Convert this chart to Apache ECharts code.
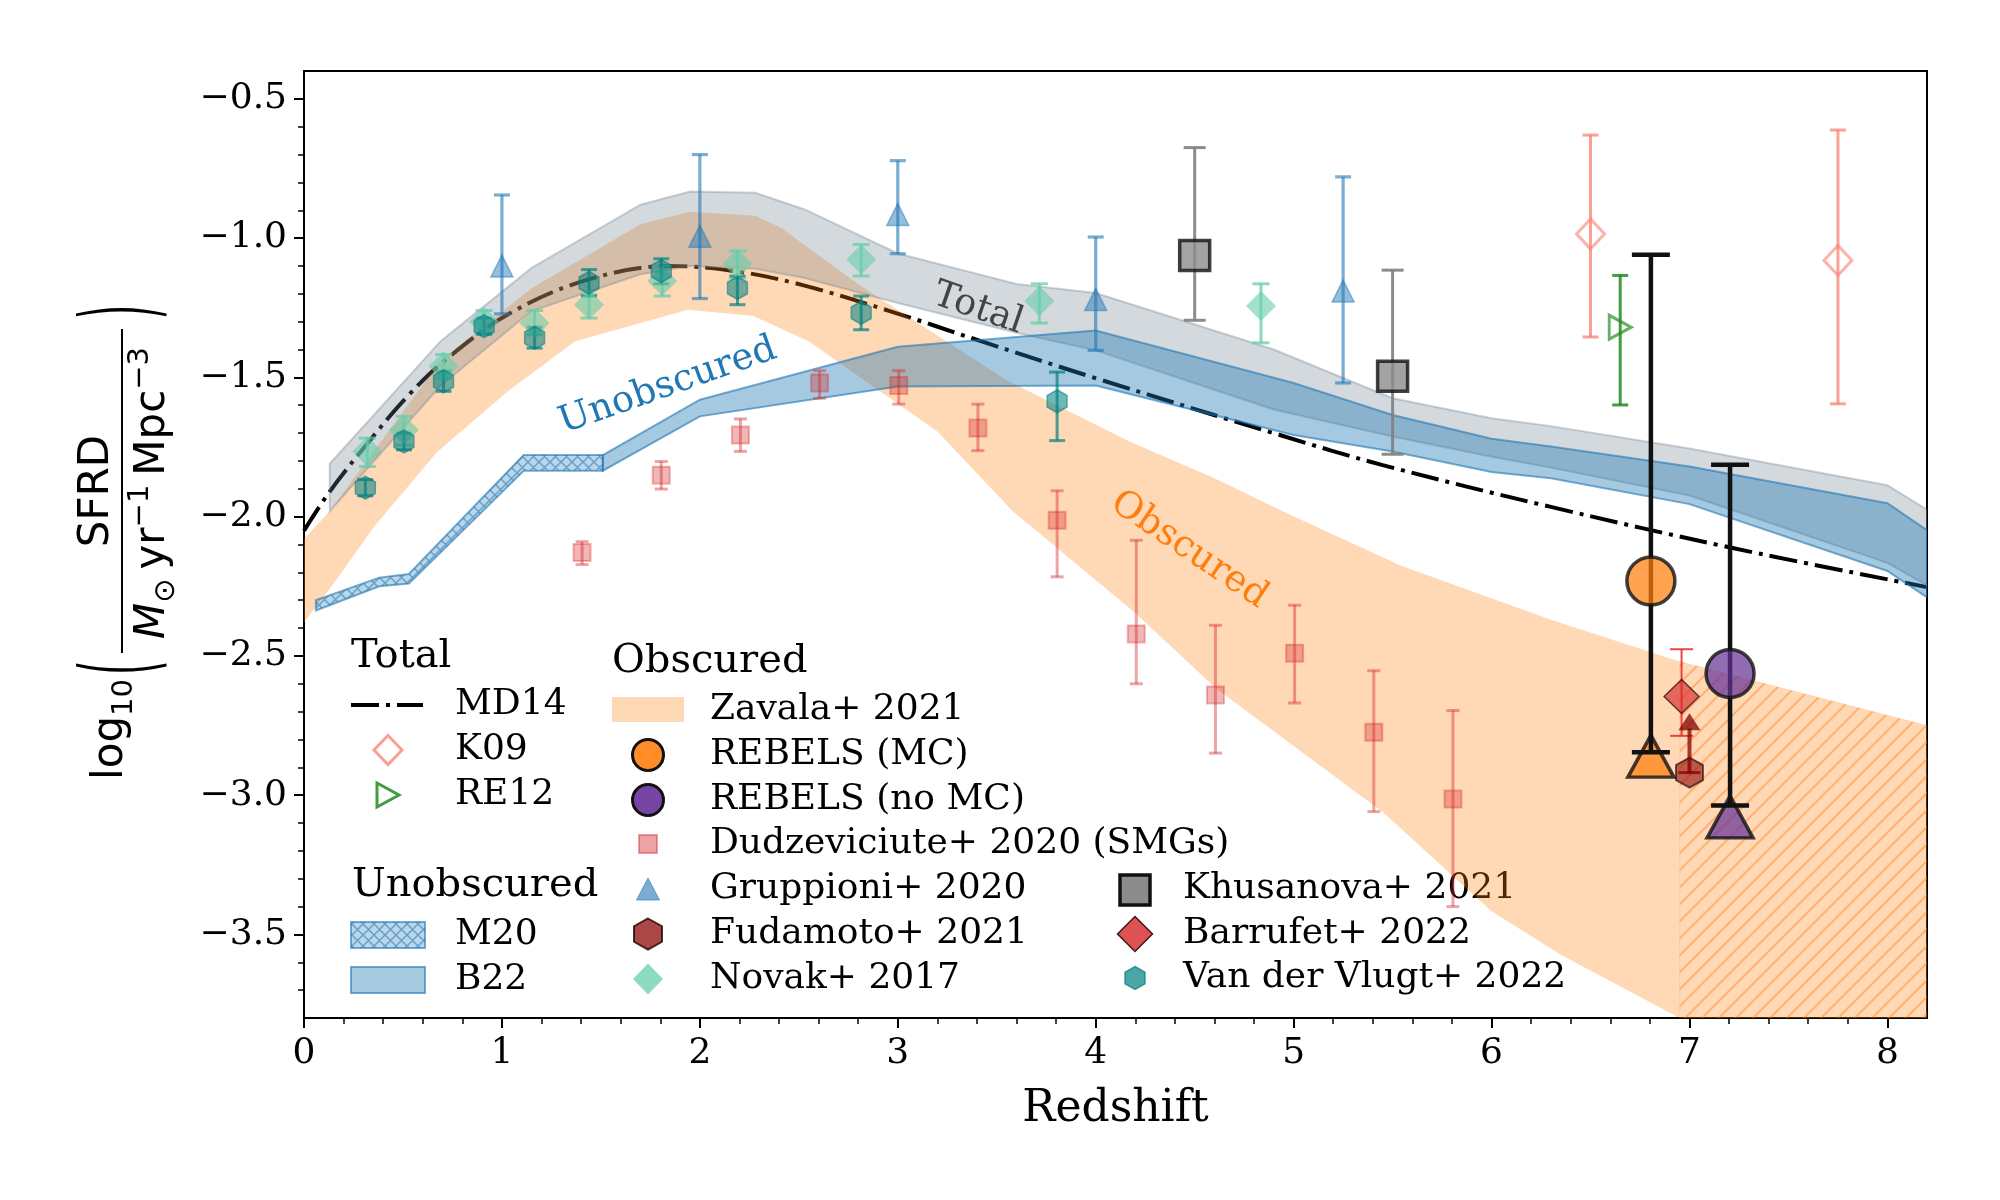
<!DOCTYPE html>
<html>
<head>
<meta charset="utf-8">
<script src="https://cdn.jsdelivr.net/npm/echarts/dist/echarts.min.js"></script>
<style>html,body{margin:0;padding:0;background:#fff}#c{width:2000px;height:1200px}</style>
</head>
<body>
<div id="c"></div>
<script>
// ---------------- DATA ----------------
const xTickLabels = [0, 1, 2, 3, 4, 5, 6, 7, 8];
const xMinorTicks = [0.2,0.4,0.6,0.8,1.2,1.4,1.6,1.8,2.2,2.4,2.6,2.8,3.2,3.4,3.6,3.8,4.2,4.4,4.6,4.8,5.2,5.4,5.6,5.8,6.2,6.4,6.6,6.8,7.2,7.4,7.6,7.8];
const yTickLabels = [-3.5, -3.0, -2.5, -2.0, -1.5, -1.0, -0.5];
const yMinorTicks = [-3.7,-3.6,-3.4,-3.3,-3.2,-3.1,-2.9,-2.8,-2.7,-2.6,-2.4,-2.3,-2.2,-2.1,-1.9,-1.8,-1.7,-1.6,-1.4,-1.3,-1.2,-1.1,-0.9,-0.8,-0.7,-0.6];

// Total: MD14 curve
const md14Z = [0, 0.13, 0.34, 0.52, 0.71, 1.04, 1.43, 1.85, 2.19, 2.51, 2.96, 3.42, 4.0, 4.93, 5.45, 6.3, 7.2, 8.2];
const md14V = [-2.05, -1.91, -1.72, -1.57, -1.44, -1.27, -1.15, -1.10, -1.12, -1.167, -1.262, -1.37, -1.503, -1.707, -1.815, -1.965, -2.11, -2.253];

// Total band (grey)
const totalZ = [0.13, 0.69, 1.15, 1.7, 1.95, 2.28, 2.53, 3.0, 3.6, 4.0, 4.9, 5.5, 6.0, 6.3, 7.0, 8.0, 8.2];
const totalUpper = [-1.81, -1.37, -1.107, -0.88, -0.833, -0.837, -0.897, -1.055, -1.165, -1.197, -1.40, -1.575, -1.647, -1.675, -1.755, -1.887, -1.975];
const totalLower = [-1.98, -1.53, -1.262, -1.13, -1.10, -1.11, -1.143, -1.233, -1.34, -1.403, -1.615, -1.712, -1.785, -1.824, -1.924, -2.166, -2.247];

// Unobscured: M20 (hatched) and B22
const m20Z = [0.06, 0.38, 0.53, 1.11, 1.51];
const m20Upper = [-2.30, -2.219, -2.206, -1.779, -1.779];
const m20Lower = [-2.337, -2.25, -2.24, -1.835, -1.835];
const b22Z = [1.51, 2.0, 3.0, 4.0, 5.0, 5.5, 6.0, 6.3, 7.0, 8.0, 8.2];
const b22Upper = [-1.779, -1.58, -1.39, -1.332, -1.52, -1.635, -1.72, -1.748, -1.82, -1.952, -2.049];
const b22Lower = [-1.835, -1.64, -1.533, -1.529, -1.707, -1.766, -1.84, -1.862, -1.955, -2.195, -2.29];

// Obscured: Zavala+ 2021 band and its hatched extrapolation
const zavalaUpperZ = [0, 0.13, 0.69, 1.15, 1.7, 1.95, 2.28, 2.41, 2.57, 2.83, 3.2, 3.55, 4.17, 4.6, 4.95, 5.54, 6.3, 6.95];
const zavalaUpper = [-2.08, -1.98, -1.44, -1.18, -0.95, -0.905, -0.92, -0.963, -1.046, -1.18, -1.35, -1.51, -1.73, -1.862, -1.982, -2.175, -2.37, -2.52];
const zavalaLowerZ = [0, 0.17, 0.35, 0.67, 1.03, 1.37, 1.94, 2.27, 2.55, 3.2, 3.58, 4.19, 4.61, 5.45, 6.0, 6.35, 6.95];
const zavalaLower = [-2.38, -2.22, -2.04, -1.77, -1.55, -1.37, -1.257, -1.28, -1.37, -1.694, -1.98, -2.34, -2.618, -3.06, -3.417, -3.573, -3.80];
const zavalaExtZ = [6.95, 8.2];
const zavalaExtUpper = [-2.52, -2.75];
const zavalaExtLower = [-3.8, -3.8];

// Points
const k09Z = [6.5, 7.75], k09V = [-0.985, -1.08], k09Lo = [-1.355, -1.595], k09Hi = [-0.63, -0.612];
const re12Z = [6.65], re12V = [-1.32], re12Lo = [-1.599], re12Hi = [-1.134];
const gruppioniZ = [1.0, 2.0, 3.0, 4.0, 5.25];
const gruppioniV = [-1.10, -0.993, -0.915, -1.22, -1.19];
const gruppioniLo = [-1.272, -1.217, -1.056, -1.403, -1.52];
const gruppioniHi = [-0.845, -0.70, -0.722, -0.996, -0.78];
const novakZ = [0.32, 0.505, 0.705, 0.91, 1.165, 1.44, 1.81, 2.19, 2.815, 3.715, 4.835];
const novakV = [-1.766, -1.689, -1.46, -1.30, -1.305, -1.239, -1.154, -1.092, -1.077, -1.226, -1.244];
const novakLo = [-1.82, -1.743, -1.503, -1.34, -1.347, -1.287, -1.208, -1.143, -1.136, -1.305, -1.376];
const novakHi = [-1.718, -1.64, -1.418, -1.26, -1.26, -1.203, -1.10, -1.046, -1.023, -1.164, -1.164];
const vdvZ = [0.31, 0.505, 0.705, 0.91, 1.165, 1.44, 1.805, 2.19, 2.815, 3.805];
const vdvV = [-1.896, -1.73, -1.514, -1.316, -1.358, -1.16, -1.118, -1.179, -1.268, -1.586];
const vdvLo = [-1.925, -1.76, -1.55, -1.345, -1.395, -1.208, -1.164, -1.239, -1.329, -1.727];
const vdvHi = [-1.867, -1.70, -1.478, -1.287, -1.32, -1.113, -1.074, -1.136, -1.208, -1.481];
const dudzZ = [1.405, 1.805, 2.205, 2.605, 3.005, 3.405, 3.805, 4.205, 4.605, 5.005, 5.405, 5.805];
const dudzV = [-2.129, -1.851, -1.707, -1.52, -1.529, -1.682, -2.013, -2.421, -2.64, -2.49, -2.774, -3.014];
const dudzLo = [-2.172, -1.901, -1.766, -1.575, -1.596, -1.763, -2.216, -2.60, -2.849, -2.669, -3.059, -3.40];
const dudzHi = [-2.09, -1.802, -1.649, -1.476, -1.476, -1.596, -1.907, -2.085, -2.39, -2.318, -2.553, -2.696];
const khusZ = [4.5, 5.5], khusV = [-1.062, -1.496], khusLo = [-1.295, -1.776], khusHi = [-0.675, -1.115];
const rebMcZ = [6.805], rebMcV = [-2.231], rebMcLo = [-2.846], rebMcHi = [-1.06], rebMcLim = [-2.86];
const rebNoZ = [7.205], rebNoV = [-2.563], rebNoLo = [-3.037], rebNoHi = [-1.814], rebNoLim = [-3.078];
const barZ = [6.96], barV = [-2.646], barLo = [-2.787], barHi = [-2.476];
const fudZ = [7.0], fudV = [-2.919], fudLim = [-2.706];

// ---------------- STYLE ----------------
const SERIF = '"DejaVu Serif", serif';
const SANS = '"DejaVu Sans", sans-serif';
const C = {
  grey: 'rgba(112,128,144,0.3)', greyEdge: 'rgba(112,128,144,0.35)',
  peach: 'rgba(255,127,14,0.3)',
  blue: 'rgba(31,119,180,0.4)', blueEdge: 'rgba(31,119,180,0.6)', blueM20: 'rgba(31,119,180,0.3)',
  grup: 'rgba(31,119,180,0.6)', novak: 'rgba(102,205,170,0.75)', vdv: 'rgba(0,128,128,0.7)',
  dudz: 'rgba(214,39,40,0.42)', khus: '#8c8c8c', k09: 'rgba(250,128,114,0.75)', re12: 'rgba(34,139,34,0.85)',
  mc: 'rgba(255,127,14,0.9)', nomc: 'rgba(102,51,153,0.9)', bar: 'rgba(214,39,40,0.8)', fud: 'rgba(139,0,0,0.72)'
};
const HEX = 'path://M0,-10 L8.66,-5 L8.66,5 L0,10 L-8.66,5 L-8.66,-5 Z';
const TRI_R = 'path://M0,0 L20,10 L0,20 Z';

function makePattern(size, color, width, cross) {
  const cv = document.createElement('canvas');
  cv.width = size; cv.height = size;
  const g = cv.getContext('2d');
  g.strokeStyle = color; g.lineWidth = width;
  g.beginPath();
  g.moveTo(0, size); g.lineTo(size, 0);
  g.moveTo(-2, 2); g.lineTo(2, -2);
  g.moveTo(size - 2, size + 2); g.lineTo(size + 2, size - 2);
  if (cross) {
    g.moveTo(0, 0); g.lineTo(size, size);
    g.moveTo(-2, size - 2); g.lineTo(2, size + 2);
    g.moveTo(size - 2, -2); g.lineTo(size + 2, 2);
  }
  g.stroke();
  return { image: cv, repeat: 'repeat' };
}
const hatchOrange = makePattern(17, 'rgba(255,127,14,0.42)', 2, false);
const hatchBlue = makePattern(11, 'rgba(31,119,180,0.55)', 1.5, true);

function band(name, uz, uu, lz, ll, style, pattern) {
  return {
    name, type: 'custom', coordinateSystem: 'cartesian2d', clip: true, silent: true, z: 2,
    data: [[uz[0], uu[0]]],
    renderItem: function (params, api) {
      const pts = [];
      for (let i = 0; i < uz.length; i++) pts.push(api.coord([uz[i], uu[i]]));
      for (let i = lz.length - 1; i >= 0; i--) pts.push(api.coord([lz[i], ll[i]]));
      const ch = [{ type: 'polygon', shape: { points: pts }, style: style }];
      if (pattern) ch.push({ type: 'polygon', shape: { points: pts }, style: { fill: pattern, stroke: null } });
      return { type: 'group', children: ch };
    }
  };
}
function errbars(name, zs, lo, hi, color, lw, cap, z) {
  return {
    name, type: 'custom', silent: true, z: z || 3, clip: false,
    data: zs.map((x, i) => [x, lo[i], hi[i]]),
    encode: { x: 0, y: [1, 2] },
    renderItem: function (params, api) {
      const x = api.value(0);
      const a = api.coord([x, api.value(1)]), b = api.coord([x, api.value(2)]);
      const h = cap / 2, st = { stroke: color, lineWidth: lw, fill: null };
      return { type: 'group', children: [
        { type: 'line', shape: { x1: a[0], y1: a[1], x2: b[0], y2: b[1] }, style: st },
        { type: 'line', shape: { x1: a[0] - h, y1: a[1], x2: a[0] + h, y2: a[1] }, style: st },
        { type: 'line', shape: { x1: b[0] - h, y1: b[1], x2: b[0] + h, y2: b[1] }, style: st }
      ] };
    }
  };
}
function pts(name, zs, vs, symbol, size, itemStyle, z) {
  return {
    name, type: 'scatter', silent: true, z: z || 4,
    data: zs.map((x, i) => [x, vs[i]]),
    symbol, symbolSize: size, itemStyle, emphasis: { disabled: true }
  };
}

// ---------------- GRAPHIC (legend, annotations, y label) ----------------
const LY = 5; // legend vertical offset
function T(x, y, t, size, extra) {
  const st = Object.assign({ text: t, fontSize: size, fontFamily: SERIF, font: size + 'px ' + SERIF, fill: '#000',
    align: 'left', verticalAlign: 'middle', textAlign: 'left', textVerticalAlign: 'middle' }, extra || {});
  return { type: 'text', x, y: y + LY, silent: true, style: st };
}
function poly(points, style) { return { type: 'polygon', silent: true, shape: { points: points.map(p => [p[0], p[1] + LY]) }, style }; }
function diamond(cx, cy, w, h, style) { return poly([[cx, cy - h / 2], [cx + w / 2, cy], [cx, cy + h / 2], [cx - w / 2, cy]], style); }
function hexagon(cx, cy, w, h, style) { return poly([[cx, cy - h / 2], [cx + w / 2, cy - h / 4], [cx + w / 2, cy + h / 4], [cx, cy + h / 2], [cx - w / 2, cy + h / 4], [cx - w / 2, cy - h / 4]], style); }
function triUp(cx, cy, w, h, style) { return poly([[cx, cy - h / 2], [cx + w / 2, cy + h / 2], [cx - w / 2, cy + h / 2]], style); }
function triRight(cx, cy, w, h, style) { return poly([[cx - w / 2, cy - h / 2], [cx + w / 2, cy], [cx - w / 2, cy + h / 2]], style); }
function rect(x, y, w, h, style) { return { type: 'rect', silent: true, shape: { x, y: y + LY, width: w, height: h }, style }; }

const G = [];
// legend titles
G.push(T(351, 652, 'Total', 40));
G.push(T(352, 881, 'Unobscured', 40));
G.push(T(612, 657, 'Obscured', 40));
// Total column
G.push({ type: 'line', silent: true, shape: { x1: 351, y1: 700 + LY, x2: 423, y2: 700 + LY }, style: { stroke: '#000', lineWidth: 4, lineDash: [28, 7, 4, 7] } });
G.push(T(455, 700, 'MD14', 36));
G.push(diamond(388, 745, 28, 29, { fill: 'none', stroke: C.k09, lineWidth: 3 }));
G.push(T(455, 745, 'K09', 36));
G.push(triRight(388, 790, 22, 24, { fill: 'none', stroke: C.re12, lineWidth: 3 }));
G.push(T(455, 790, 'RE12', 36));
// Unobscured
G.push(rect(351, 917, 74, 26, { fill: C.blueM20, stroke: C.blueEdge, lineWidth: 2 }));
G.push(rect(351, 917, 74, 26, { fill: hatchBlue, stroke: null }));
G.push(T(455, 930, 'M20', 36));
G.push(rect(351, 962, 74, 26, { fill: C.blue, stroke: C.blueEdge, lineWidth: 2 }));
G.push(T(455, 975, 'B22', 36));
// Obscured column
G.push(rect(612, 692, 72, 25, { fill: C.peach, stroke: null }));
G.push(T(710, 705, 'Zavala+ 2021', 36));
G.push({ type: 'circle', silent: true, shape: { cx: 648, cy: 750 + LY, r: 15.5 }, style: { fill: C.mc, stroke: '#111', lineWidth: 3 } });
G.push(T(710, 750, 'REBELS (MC)', 36));
G.push({ type: 'circle', silent: true, shape: { cx: 648, cy: 795 + LY, r: 15.5 }, style: { fill: C.nomc, stroke: '#111', lineWidth: 3 } });
G.push(T(710, 795, 'REBELS (no MC)', 36));
G.push(rect(639, 830, 18, 18, { fill: C.dudz, stroke: C.dudz, lineWidth: 2 }));
G.push(T(710, 839, 'Dudzeviciute+ 2020 (SMGs)', 36));
G.push(triUp(648, 884, 23, 22, { fill: C.grup, stroke: C.grup, lineWidth: 1 }));
G.push(T(710, 884, 'Gruppioni+ 2020', 36));
G.push(hexagon(648, 929, 28, 31, { fill: C.fud, stroke: 'rgba(30,0,0,0.8)', lineWidth: 2 }));
G.push(T(710, 929, 'Fudamoto+ 2021', 36));
G.push(diamond(648, 974, 30, 31, { fill: C.novak, stroke: null }));
G.push(T(710, 974, 'Novak+ 2017', 36));
// third column
G.push(rect(1120, 870, 30, 30, { fill: C.khus, stroke: '#111', lineWidth: 3.5 }));
G.push(T(1183, 884, 'Khusanova+ 2021', 36));
G.push(diamond(1135, 929, 35, 35, { fill: C.bar, stroke: 'rgba(30,0,0,0.85)', lineWidth: 1.5 }));
G.push(T(1183, 929, 'Barrufet+ 2022', 36));
G.push(hexagon(1135, 973, 20, 23, { fill: C.vdv, stroke: C.vdv, lineWidth: 1.5 }));
G.push(T(1183, 973, 'Van der Vlugt+ 2022', 36));

// in-plot annotations
function rotT(x, y, t, size, color, deg) {
  return { type: 'text', x, y, rotation: deg * Math.PI / 180, silent: true, z: 10,
    style: { text: t, fontSize: size, fontFamily: SERIF, font: size + 'px ' + SERIF, fill: color,
      align: 'center', verticalAlign: 'middle', textAlign: 'center', textVerticalAlign: 'middle' } };
}
G.push(rotT(668, 386, 'Unobscured', 37, '#1f77b4', 19.5));
G.push(rotT(978, 309, 'Total', 37, '#444444', -19));
G.push(rotT(1189, 550, 'Obscured', 37, '#ff7f0e', -34));

// y-axis label: log10( SFRD / M_sun yr^-1 Mpc^-3 )
const mctx = document.createElement('canvas').getContext('2d');
function tw(t, size, italic) { mctx.font = (italic ? 'italic ' : '') + size + 'px "DejaVu Sans"'; return mctx.measureText(t).width; }
function lt(x, base, t, size, italic, align) {
  return { type: 'text', x, y: base - 0.346 * size, silent: true,
    style: { text: t, fontSize: size, fontFamily: SANS, fontStyle: italic ? 'italic' : 'normal',
      font: (italic ? 'italic ' : '') + size + 'px ' + SANS, fill: '#000',
      align: align || 'left', verticalAlign: 'middle', textAlign: align || 'left', textVerticalAlign: 'middle' } };
}
const yl = [];
const FS = 42, FSs = 29;
yl.push(lt(0, -10, 'SFRD', FS, false, 'center'));
yl.push({ type: 'line', silent: true, shape: { x1: -162, y1: 0, x2: 162, y2: 0 }, style: { stroke: '#000', lineWidth: 2 } });
const den = [
  { t: 'M', s: FS, it: true, dy: 0 }, { t: '\u2299', s: FSs, dy: 9 }, { gap: 9 },
  { t: 'yr', s: FS, dy: 0 }, { t: '\u22121', s: FSs, dy: -17 }, { gap: 9 },
  { t: 'Mpc', s: FS, dy: 0 }, { t: '\u22123', s: FSs, dy: -17 }
];
let denW = 0;
den.forEach(p => { p.w = p.gap ? p.gap : tw(p.t, p.s, p.it); denW += p.w; });
let cx = -2 - denW / 2;
den.forEach(p => { if (!p.gap) yl.push(lt(cx, 46 + p.dy, p.t, p.s, p.it)); cx += p.w; });
const logW = tw('log', FS) + tw('10', FSs);
let lx = -188 - logW;
yl.push(lt(lx, 4, 'log', FS));
yl.push(lt(lx + tw('log', FS), 13, '10', FSs));
yl.push({ type: 'text', x: -184, y: 4, scaleX: 0.36, silent: true,
  style: { text: '(', fontSize: 102, fontFamily: SANS, font: '102px ' + SANS, fill: '#000', align: 'left', verticalAlign: 'middle', textAlign: 'left', textVerticalAlign: 'middle' } });
yl.push({ type: 'text', x: 186, y: 4, scaleX: 0.36, silent: true,
  style: { text: ')', fontSize: 102, fontFamily: SANS, font: '102px ' + SANS, fill: '#000', align: 'right', verticalAlign: 'middle', textAlign: 'right', textVerticalAlign: 'middle' } });
G.push({ type: 'group', x: 122, y: 491, rotation: Math.PI / 2, children: yl });

// ---------------- CHART ----------------
const chart = echarts.init(document.getElementById('c'), null, { renderer: 'canvas', width: 2000, height: 1200 });
const fmtY = v => v.toFixed(1).replace('-', '\u2212');

const series = [
  { name: 'MD14', type: 'line', z: 1, silent: true, data: md14Z.map((x, i) => [x, md14V[i]]), smooth: 0.35,
    showSymbol: false, symbol: 'none', lineStyle: { color: '#000', width: 4, type: [28, 7, 4, 7] }, emphasis: { disabled: true } },
  band('Zavala', zavalaUpperZ, zavalaUpper, zavalaLowerZ, zavalaLower, { fill: C.peach, stroke: null }),
  band('ZavalaExt', zavalaExtZ, zavalaExtUpper, zavalaExtZ, zavalaExtLower, { fill: C.peach, stroke: 'rgba(255,127,14,0.12)', lineWidth: 1 }, hatchOrange),
  band('Total', totalZ, totalUpper, totalZ, totalLower, { fill: C.grey, stroke: C.greyEdge, lineWidth: 2 }),
  band('M20', m20Z, m20Upper, m20Z, m20Lower, { fill: C.blueM20, stroke: C.blueEdge, lineWidth: 2 }, hatchBlue),
  band('B22', b22Z, b22Upper, b22Z, b22Lower, { fill: C.blue, stroke: C.blueEdge, lineWidth: 2 }),

  errbars('dudzErr', dudzZ, dudzLo, dudzHi, C.dudz, 3, 13),
  pts('Dudzeviciute', dudzZ, dudzV, 'rect', 17, { color: C.dudz, borderColor: C.dudz, borderWidth: 2 }),
  errbars('novakErr', novakZ, novakLo, novakHi, C.novak, 3, 17),
  pts('Novak', novakZ, novakV, 'diamond', [30, 30], { color: C.novak }),
  errbars('vdvErr', vdvZ, vdvLo, vdvHi, C.vdv, 3, 16),
  pts('VdV', vdvZ, vdvV, HEX, [20, 23], { color: C.vdv, borderColor: C.vdv, borderWidth: 1.5 }),
  errbars('grupErr', gruppioniZ, gruppioniLo, gruppioniHi, C.grup, 3.2, 16),
  pts('Gruppioni', gruppioniZ, gruppioniV, 'triangle', [22, 22], { color: C.grup, borderColor: C.grup, borderWidth: 1.5 }),
  errbars('khusErr', khusZ, khusLo, khusHi, 'rgba(128,128,128,0.9)', 3, 22),
  pts('Khusanova', khusZ, khusV, 'rect', [30, 30], { color: C.khus, borderColor: '#111', borderWidth: 3.5 }),
  errbars('k09Err', k09Z, k09Lo, k09Hi, C.k09, 3, 16),
  pts('K09', k09Z, k09V, 'diamond', [28, 30], { color: 'rgba(0,0,0,0)', borderColor: C.k09, borderWidth: 3 }),
  errbars('re12Err', re12Z, re12Lo, re12Hi, C.re12, 3, 16),
  pts('RE12', re12Z, re12V, TRI_R, [22, 24], { color: 'rgba(0,0,0,0)', borderColor: C.re12, borderWidth: 3 }),
  errbars('barErr', barZ, barLo, barHi, 'rgba(230,40,40,0.85)', 2, 23),
  pts('Barrufet', barZ, barV, 'diamond', [35, 34], { color: C.bar, borderColor: 'rgba(30,0,0,0.85)', borderWidth: 1.5 }),
  pts('Fudamoto', fudZ, fudV, HEX, [27, 30], { color: C.fud, borderColor: 'rgba(30,0,0,0.8)', borderWidth: 2 }),
  { name: 'FudArrow', type: 'custom', silent: true, z: 5,
    data: fudZ.map((x, i) => [x, fudV[i], fudLim[i]]), encode: { x: 0, y: [1, 2] },
    renderItem: function (params, api) {
      const a = api.coord([api.value(0), api.value(1)]), b = api.coord([api.value(0), api.value(2)]);
      const col = 'rgba(130,0,0,0.75)';
      return { type: 'group', children: [
        { type: 'line', shape: { x1: a[0], y1: a[1], x2: b[0], y2: b[1] + 15 }, style: { stroke: col, lineWidth: 4 } },
        { type: 'line', shape: { x1: a[0] - 11, y1: a[1], x2: a[0] + 11, y2: a[1] }, style: { stroke: col, lineWidth: 3 } },
        { type: 'polygon', shape: { points: [[b[0], b[1]], [b[0] + 11, b[1] + 17], [b[0] - 11, b[1] + 17]] }, style: { fill: col } }
      ] };
    } },
  pts('RebMcLim', rebMcZ, rebMcLim, 'triangle', [46, 42], { color: C.mc, borderColor: '#111', borderWidth: 3.5 }, 5),
  pts('RebNoLim', rebNoZ, rebNoLim, 'triangle', [46, 42], { color: C.nomc, borderColor: '#111', borderWidth: 3.5 }, 5),
  errbars('rebMcErr', rebMcZ, rebMcLo, rebMcHi, '#111', 4.5, 38, 6),
  errbars('rebNoErr', rebNoZ, rebNoLo, rebNoHi, '#111', 4.5, 38, 6),
  pts('RebMc', rebMcZ, rebMcV, 'circle', 48, { color: C.mc, borderColor: '#111', borderWidth: 3.5 }, 7),
  pts('RebNo', rebNoZ, rebNoV, 'circle', 48, { color: C.nomc, borderColor: '#111', borderWidth: 3.5 }, 7)
];

chart.setOption({
  animation: false,
  backgroundColor: '#fff',
  grid: { left: 304, right: 73, top: 71, bottom: 182, show: true, borderColor: '#000', borderWidth: 2, backgroundColor: 'rgba(0,0,0,0)' },
  xAxis: [
    { type: 'value', min: 0, max: 8.2, position: 'bottom',
      name: 'Redshift', nameLocation: 'middle', nameGap: 70,
      nameTextStyle: { fontFamily: SERIF, fontSize: 44, color: '#000' },
      axisLine: { show: true, lineStyle: { color: '#000', width: 2 } },
      axisTick: { show: true, customValues: xTickLabels, length: 10, lineStyle: { color: '#000', width: 2 } },
      axisLabel: { customValues: xTickLabels, fontFamily: SERIF, fontSize: 36, color: '#000', margin: 18, formatter: v => String(v) },
      splitLine: { show: false } },
    { type: 'value', min: 0, max: 8.2, position: 'bottom', gridIndex: 0,
      axisLine: { show: false }, axisTick: { show: true, customValues: xMinorTicks, length: 6, lineStyle: { color: '#000', width: 1.5 } },
      axisLabel: { show: false }, splitLine: { show: false } }
  ],
  yAxis: [
    { type: 'value', min: -3.8, max: -0.4, position: 'left',
      axisLine: { show: true, lineStyle: { color: '#000', width: 2 } },
      axisTick: { show: true, customValues: yTickLabels, length: 10, lineStyle: { color: '#000', width: 2 } },
      axisLabel: { customValues: yTickLabels, fontFamily: SERIF, fontSize: 36, color: '#000', margin: 17, formatter: fmtY },
      splitLine: { show: false } },
    { type: 'value', min: -3.8, max: -0.4, position: 'left', gridIndex: 0,
      axisLine: { show: false }, axisTick: { show: true, customValues: yMinorTicks, length: 6, lineStyle: { color: '#000', width: 1.5 } },
      axisLabel: { show: false }, splitLine: { show: false } }
  ],
  graphic: { elements: G },
  series: series
});
</script>
</body>
</html>
